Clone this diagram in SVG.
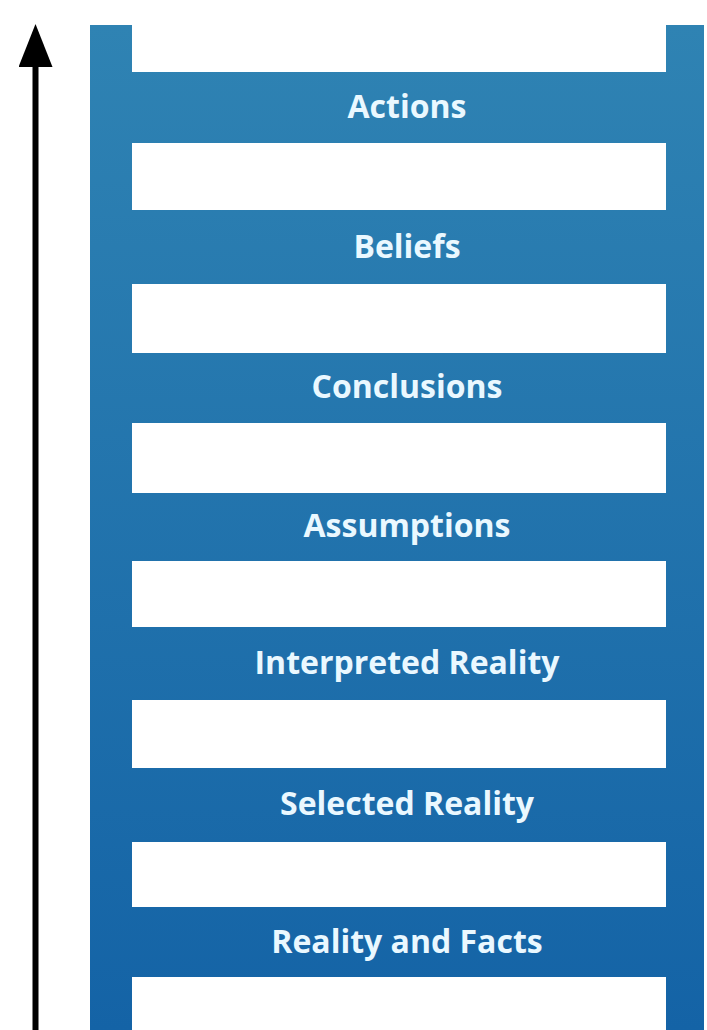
<svg xmlns="http://www.w3.org/2000/svg" width="707" height="1030" viewBox="0 0 707 1030">
  <style>
    .ladder { fill: url(#blue); }
    .label { font-family: "Open Sans", "Liberation Sans", sans-serif; font-weight: bold; font-size: 32px; fill: #EAF8FF; text-anchor: middle; }
  </style>
  <defs>
    <linearGradient id="blue" gradientUnits="userSpaceOnUse" x1="0" y1="25" x2="0" y2="1030">
      <stop offset="0" stop-color="#2F83B3"/>
      <stop offset="1" stop-color="#1463A6"/>
    </linearGradient>
    <marker id="arrowhead" markerUnits="userSpaceOnUse" markerWidth="44" markerHeight="34" refX="1" refY="17" orient="auto" viewBox="0 0 44 34">
      <path d="M0,0 L43,17 L0,34 Z" fill="#000"/>
    </marker>
  </defs>
  <rect x="0" y="0" width="707" height="1030" fill="#FFFFFF"/>

  <g id="rail-left"><rect class="ladder" x="90" y="25" width="42" height="1005"/></g>
  <g id="rail-right"><rect class="ladder" x="666" y="25" width="38" height="1005"/></g>

  <g id="actions"><rect class="ladder" x="131" y="72" width="536" height="71"/><text class="label" x="407" y="118">Actions</text></g>
  <g id="beliefs"><rect class="ladder" x="131" y="210" width="536" height="74"/><text class="label" x="407" y="258">Beliefs</text></g>
  <g id="conclusions"><rect class="ladder" x="131" y="353" width="536" height="70"/><text class="label" x="407" y="398">Conclusions</text></g>
  <g id="assumptions"><rect class="ladder" x="131" y="493" width="536" height="68"/><text class="label" x="407" y="537">Assumptions</text></g>
  <g id="interpreted-reality"><rect class="ladder" x="131" y="627" width="536" height="73"/><text class="label" x="407" y="674">Interpreted Reality</text></g>
  <g id="selected-reality"><rect class="ladder" x="131" y="768" width="536" height="74"/><text class="label" x="407" y="815">Selected Reality</text></g>
  <g id="reality-and-facts"><rect class="ladder" x="131" y="907" width="536" height="70"/><text class="label" x="407" y="953">Reality and Facts</text></g>

  <g id="connectors">
    <line x1="35.5" y1="1030" x2="35.5" y2="66" stroke="#000" stroke-width="6" marker-end="url(#arrowhead)"/>
  </g>
</svg>
